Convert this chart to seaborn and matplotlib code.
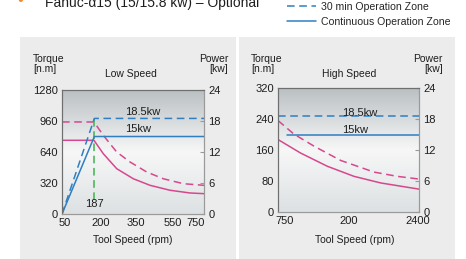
import seaborn as sns
import matplotlib as mpl
import matplotlib.pyplot as plt
from matplotlib.lines import Line2D
from matplotlib.patches import Rectangle
import numpy as np

# ---- data (speed given as position along the axis, 0 = left edge, 1 = right edge)
low_tick_pos = [0.02, 0.27, 0.52, 0.78, 0.94]
low_tick_labels = ['50', '200', '350', '550', '750']
high_tick_pos = [0.05, 0.50, 0.99]
high_tick_labels = ['750', '200', '2400']

low_corner = 0.228   # 187 rpm
low_torque30_x = [0.0, 0.225, 0.291, 0.385, 0.479, 0.596, 0.713, 0.854, 1.0]
low_torque30_y = [950, 950, 812, 640, 537, 434, 364, 313, 296]
low_torquec_x = [0.0, 0.225, 0.291, 0.385, 0.502, 0.620, 0.761, 0.901, 1.0]
low_torquec_y = [761, 761, 622, 468, 364, 296, 245, 217, 210]
low_power30_x = [0.0, low_corner, 1.0]
low_power30_y = [0, 18.5, 18.5]
low_powerc_x = [0.0, low_corner, 1.0]
low_powerc_y = [0, 15, 15]
low_base_x = [low_corner, low_corner]
low_base_y = [145, 980]

high_torque30_x = [0.0, 0.113, 0.255, 0.445, 0.681, 0.846, 1.0]
high_torque30_y = [236, 201, 170, 133, 103, 92, 85]
high_torquec_x = [0.0, 0.161, 0.35, 0.539, 0.728, 1.0]
high_torquec_y = [187, 152, 118, 92, 75, 59]
high_power30_x = [0.0, 1.0]
high_power30_y = [18.5, 18.5]
high_powerc_x = [0.066, 1.0]
high_powerc_y = [15, 15]

BLUE = '#2f7fc1'
MAGENTA = '#d6488e'
GREEN = '#3fb34f'
TXT = '#1e1e1e'
DASH = (0, (5, 3))

sns.set_style('white')
plt.rcParams['font.family'] = ['Liberation Sans', 'DejaVu Sans']
plt.rcParams['font.size'] = 7.5

W, H = 466, 259
fig = plt.figure(figsize=(W / 100, H / 100), dpi=100)


def fx(px):
    return px / W


def fy(py):
    return 1 - py / H


# grey panels behind each chart
for x0, x1 in [(20, 236), (239, 455)]:
    fig.add_artist(Rectangle((fx(x0), 0), fx(x1) - fx(x0), fy(37), transform=fig.transFigure,
                             facecolor='#ececec', edgecolor='none', zorder=-5))

grad = mpl.colors.LinearSegmentedColormap.from_list(
    'bg', [(0, '#dde1e3'), (0.5, '#f7f7f7'), (1.0, '#bac0c3')])


def make_panel(rect, tmax, tticks):
    ax = fig.add_axes(rect)
    ax.set_facecolor('none')
    ax.imshow(np.linspace(0, 1, 256).reshape(-1, 1)[::-1], cmap=grad, aspect='auto',
              extent=[0, 1, 0, 1], transform=ax.transAxes, zorder=-2)
    ax.set_xlim(0, 1)
    ax.set_ylim(0, tmax)
    ax.set_yticks(tticks)
    ax2 = ax.twinx()
    ax2.set_ylim(0, 24)
    ax2.set_yticks([0, 6, 12, 18, 24])
    for a in (ax, ax2):
        for side, sp in a.spines.items():
            sp.set_color('#6f6f6f' if side in ('left', 'top') else '#9a9a9a')
            sp.set_linewidth(0.8)
    ax.tick_params(axis='y', length=0, pad=3, labelsize=8, colors=TXT)
    ax2.tick_params(axis='y', direction='in', length=3, width=0.8, color='#9a9a9a',
                    pad=3, labelsize=8, labelcolor=TXT)
    ax.tick_params(axis='x', length=0, pad=3, labelsize=8, colors=TXT)
    ax.tick_params(axis='x', which='minor', direction='in', length=3, width=0.8, color='#9a9a9a')
    return ax, ax2


# ---- low speed
axl, axl2 = make_panel([fx(62), fy(214), fx(204) - fx(62), fy(90) - fy(214)], 1280,
                       [0, 320, 640, 960, 1280])
axl.set_xticks(low_tick_pos)
axl.set_xticklabels(low_tick_labels)
axl.set_xticks([0.5, 0.75], minor=True)

sns.lineplot(x=low_torque30_x, y=low_torque30_y, ax=axl, color=MAGENTA, lw=1.1, linestyle=DASH)
sns.lineplot(x=low_torquec_x, y=low_torquec_y, ax=axl, color=MAGENTA, lw=1.1)
sns.lineplot(x=low_base_x, y=low_base_y, ax=axl, color=GREEN, lw=1.1, linestyle=DASH,
             estimator=None, sort=False)
sns.lineplot(x=low_power30_x, y=low_power30_y, ax=axl2, color=BLUE, lw=1.1, linestyle=DASH)
sns.lineplot(x=low_powerc_x, y=low_powerc_y, ax=axl2, color=BLUE, lw=1.1)
axl2.text(0.57, 19.7, '18.5kw', ha='center', va='center', fontsize=8, color=TXT)
axl2.text(0.535, 16.5, '15kw', ha='center', va='center', fontsize=8, color=TXT)
axl.text(low_corner, 100, '187', ha='center', va='center', fontsize=8, color=TXT)
axl.set_xlabel('')
axl.set_ylabel('')
axl2.set_ylabel('')

# ---- high speed
axh, axh2 = make_panel([fx(278), fy(212), fx(419) - fx(278), fy(88) - fy(212)], 320,
                       [0, 80, 160, 240, 320])
axh.set_xticks(high_tick_pos)
axh.set_xticklabels(high_tick_labels)
axh.set_xticks([0.5], minor=True)

sns.lineplot(x=high_torque30_x, y=high_torque30_y, ax=axh, color=MAGENTA, lw=1.1, linestyle=DASH)
sns.lineplot(x=high_torquec_x, y=high_torquec_y, ax=axh, color=MAGENTA, lw=1.1)
sns.lineplot(x=high_power30_x, y=high_power30_y, ax=axh2, color=BLUE, lw=1.1, linestyle=DASH)
sns.lineplot(x=high_powerc_x, y=high_powerc_y, ax=axh2, color=BLUE, lw=1.1)
axh2.text(0.58, 19.2, '18.5kw', ha='center', va='center', fontsize=8, color=TXT)
axh2.text(0.546, 15.9, '15kw', ha='center', va='center', fontsize=8, color=TXT)
axh.set_xlabel('')
axh.set_ylabel('')
axh2.set_ylabel('')

# ---- panel texts
for left, right, mid, xmid, name in [(33, 228, 131, 133, 'Low Speed'),
                                     (251, 443, 349, 355, 'High Speed')]:
    fig.text(fx(left), fy(54), 'Torque\n[n.m]', ha='left', va='top', fontsize=7.5,
             color=TXT, linespacing=1.05)
    fig.text(fx(right), fy(54), 'Power\n[kw]', ha='right', va='top', fontsize=7.5,
             color=TXT, linespacing=1.05, multialignment='right')
    fig.text(fx(mid), fy(74), name, ha='center', va='center', fontsize=7.5, color=TXT)
    fig.text(fx(xmid), fy(240), 'Tool Speed (rpm)', ha='center', va='center',
             fontsize=7.5, color=TXT)

# ---- header
fig.text(fx(17), fy(1), '\u2022', ha='left', va='center', fontsize=12, color='#f08a2c')
fig.text(fx(45), fy(7.5), 'Fanuc-\u03b115 (15/15.8 kw) \u2013 Optional', ha='left',
         va='baseline', fontsize=10, color=TXT)

handles = [Line2D([], [], color=BLUE, lw=1.1, linestyle=DASH),
           Line2D([], [], color=BLUE, lw=1.1)]
fig.legend(handles, ['30 min Operation Zone', 'Continuous Operation Zone'],
           loc='upper left', bbox_to_anchor=(fx(287), fy(2)), frameon=False,
           fontsize=7.6, handlelength=2.7, handletextpad=0.5, labelspacing=0.45,
           borderpad=0, borderaxespad=0)

fig.savefig('out.png', dpi=100)
